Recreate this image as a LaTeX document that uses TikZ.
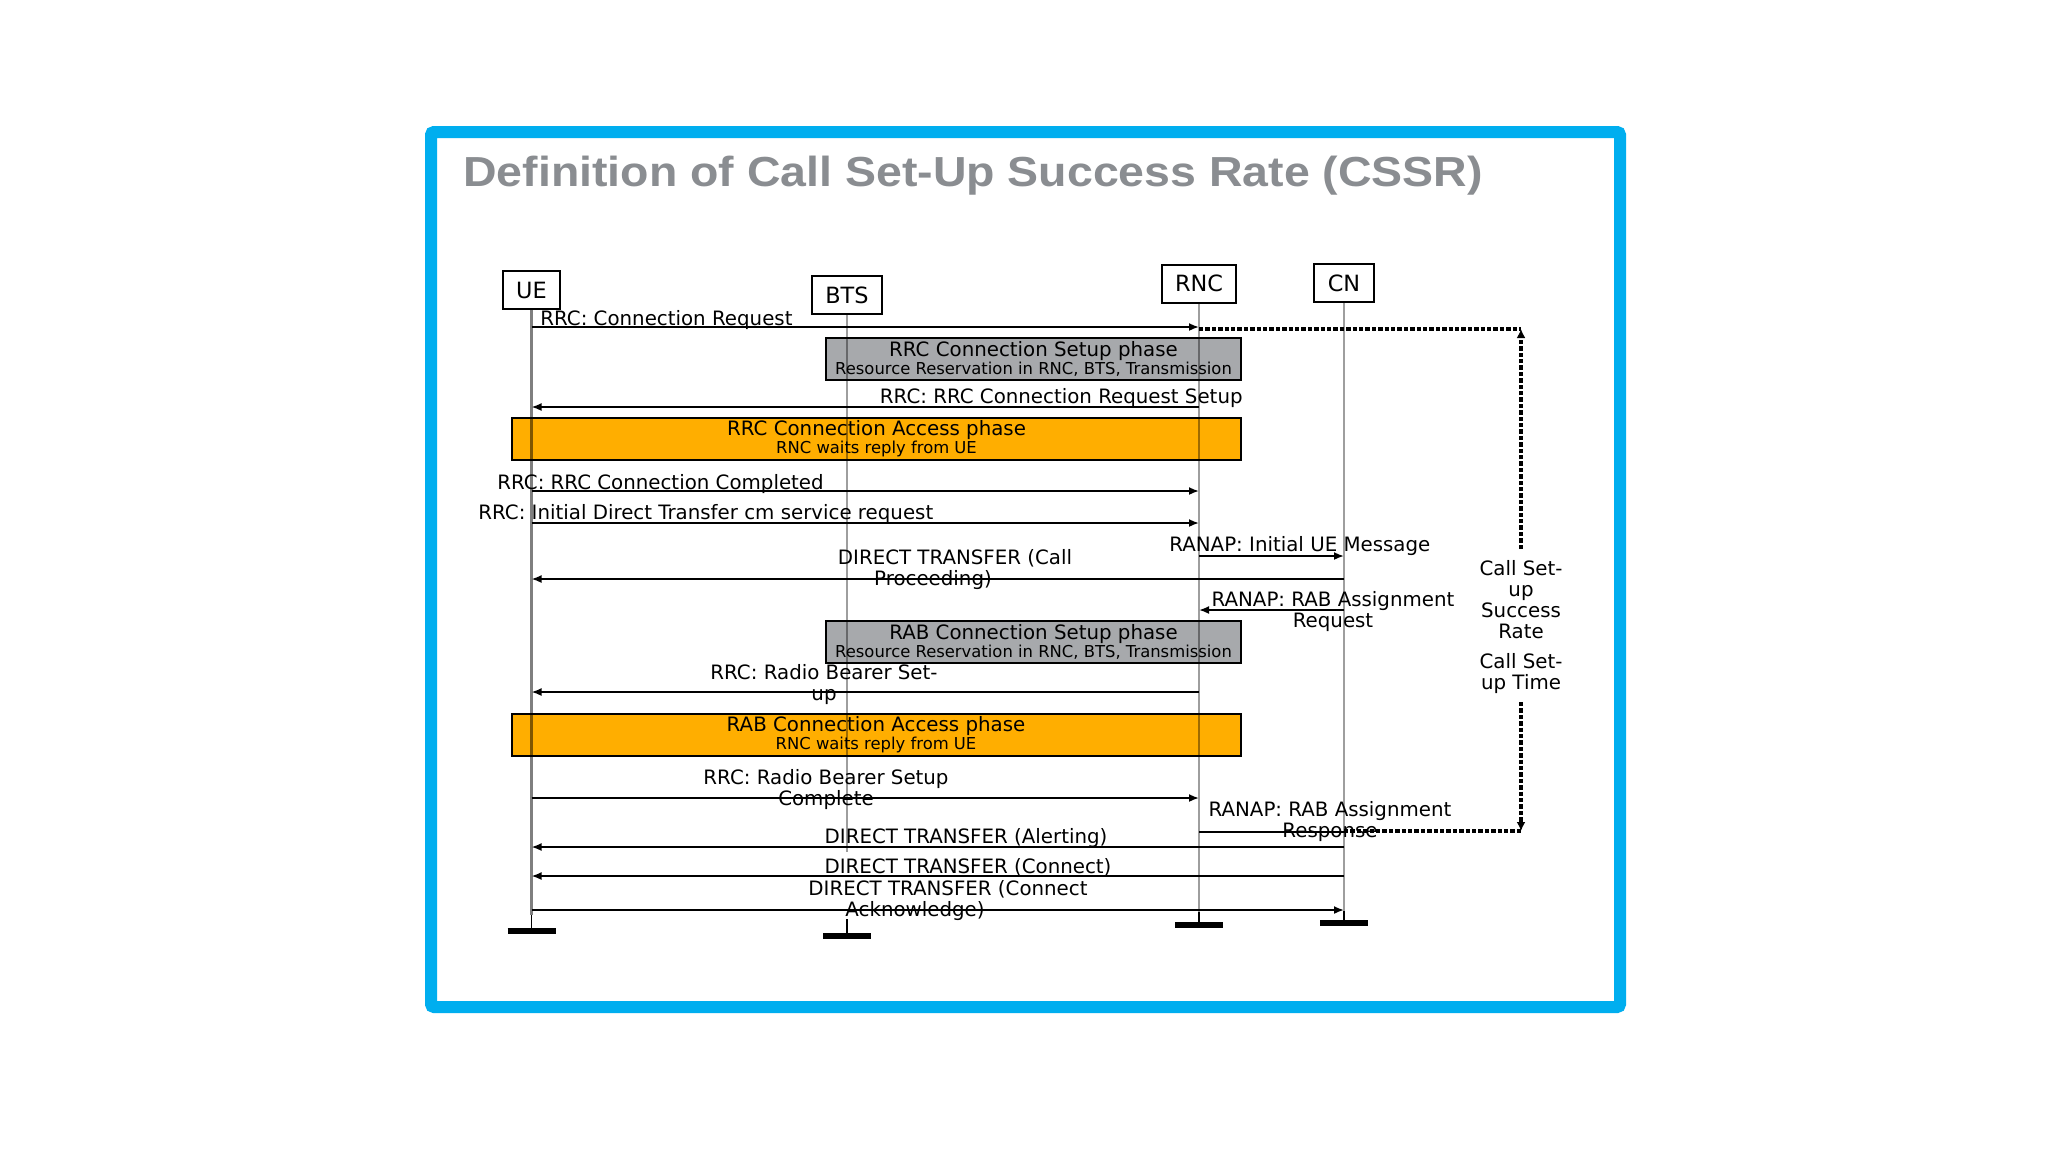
\documentclass[tikz,border=0pt]{standalone}
\usepackage{fontspec}
\usepackage{graphicx}
\setmainfont{DejaVu Sans}
\newfontfamily\titlefont{Liberation Sans}
\usetikzlibrary{arrows.meta}
\definecolor{frameblue}{RGB}{0,174,239}
\definecolor{titlegray}{RGB}{138,141,145}
\definecolor{phasegray}{RGB}{167,169,172}
\definecolor{phaseorange}{RGB}{255,174,0}
\newcommand{\twol}[2]{\begin{tabular}[t]{@{}c@{}}#1\\#2\end{tabular}}
\begin{document}
\begin{tikzpicture}[x=0.5pt,y=-0.5pt,
  msgfont/.style={font=\fontsize{9.9}{10.5}\selectfont},
  lbl/.style={msgfont, inner sep=0pt, anchor=base},
  lblw/.style={lbl, anchor=base west},
  lble/.style={lbl, anchor=base east},
  entity/.style={draw=black, line width=1pt, fill=white, font=\fontsize{11.2}{12}\selectfont, inner xsep=6.7pt, inner ysep=0pt, minimum height=19pt},
  life/.style={draw=black, draw opacity=0.38, line width=1.3pt},
  lifedark/.style={draw=black, draw opacity=0.5, line width=1.1pt},
  stub/.style={draw=black, line width=0.6pt},
  endbar/.style={draw=black, line width=3pt},
  msg/.style={draw=black, line width=0.9pt, -{Latex[length=5pt,width=4pt]}},
  msgplain/.style={draw=black, line width=0.9pt},
  phase/.style={draw=black, line width=1pt, inner sep=0pt, align=center, font=\fontsize{9.9}{9}\selectfont},
  graybox/.style={phase, fill=phasegray, minimum width=207.5pt, minimum height=21pt},
  orangebox/.style={phase, fill=phaseorange, minimum width=364.5pt, minimum height=21pt},
  dotline/.style={draw=black, line width=2.4pt, dash pattern=on 2.2pt off 1pt},
  dotarrow/.style={dotline, -{Latex[length=4.5pt,width=4.5pt]}}
]
\fill[white] (0,0) rectangle (2048,1152);
\useasboundingbox (0,0) rectangle (2048,1152);

% frame
\draw[frameblue, line width=6pt, rounded corners=1.5pt] (431,132) rectangle (1620,1007);

% title
\node[anchor=base west, inner sep=0pt, text=titlegray, font=\titlefont\bfseries\fontsize{21}{25}\selectfont] (title) at (463,186) {\scalebox{1.106}[1]{Definition of Call Set-Up Success Rate (CSSR)}};

% entities
\node[entity] (ue) at (531.5,290) {UE};
\node[entity] (bts) at (847,295) {BTS};
\node[entity] (rnc) at (1199,283.5) {RNC};
\node[entity] (cn) at (1344,283) {CN};

% phase boxes
\node[graybox] (rrcsetup) at (1033.5,359) {RRC Connection Setup phase\\{\fontsize{8.2}{9}\selectfont Resource Reservation in RNC, BTS, Transmission}};
\node[orangebox] (rrcaccess) at (876.5,439) {RRC Connection Access phase\\{\fontsize{8.2}{9}\selectfont RNC waits reply from UE}};
\node[graybox] (rabsetup) at (1033.5,641.5) {RAB Connection Setup phase\\{\fontsize{8.2}{9}\selectfont Resource Reservation in RNC, BTS, Transmission}};
\node[orangebox] (rabaccess) at (876,735) {RAB Connection Access phase\\{\fontsize{8.2}{9}\selectfont RNC waits reply from UE}};

% lifelines
\draw[lifedark] (ue.south) -- (ue |- 0,915);
\draw[life] (bts.south) -- (bts |- 0,852);
\draw[life] (rnc.south) -- (rnc |- 0,912);
\draw[life] (cn.south) -- (cn |- 0,911);
\draw[stub] (ue |- 0,915) -- (ue |- 0,928);
\draw[stub] (bts |- 0,919) -- (bts |- 0,933);
\draw[stub] (rnc |- 0,912) -- (rnc |- 0,922);
\draw[stub] (cn |- 0,911) -- (cn |- 0,920);
\coordinate (ueend) at (ue |- 0,931);
\coordinate (btsend) at (bts |- 0,936);
\coordinate (rncend) at (rnc |- 0,925);
\coordinate (cnend) at (cn |- 0,923);
\draw[endbar] ([xshift=-12pt]ueend) -- ([xshift=12pt]ueend);
\draw[endbar] ([xshift=-12pt]btsend) -- ([xshift=12pt]btsend);
\draw[endbar] ([xshift=-12pt]rncend) -- ([xshift=12pt]rncend);
\draw[endbar] ([xshift=-12pt]cnend) -- ([xshift=12pt]cnend);

% messages
\draw[msg] (ue |- 0,327) -- (rnc |- 0,327);
\node[lblw] (l1) at (540,325) {RRC: Connection Request};

\draw[msg] (rnc |- 0,407) -- (ue |- 0,407);
\node[lble] (l2) at (1243,403) {RRC: RRC Connection Request Setup};

\draw[msg] (ue |- 0,491) -- (rnc |- 0,491);
\node[lblw] (l3) at (497,489) {RRC: RRC Connection Completed};

\draw[msg] (ue |- 0,523) -- (rnc |- 0,523);
\node[lblw] (l4) at (478,519) {RRC: Initial Direct Transfer cm service request};

\draw[msg] (rnc |- 0,556) -- (cn |- 0,556);
\node[lblw] (l5) at (1169,551) {RANAP: Initial UE Message};

\draw[msg] (cn |- 0,579) -- (ue |- 0,579);
\node[lbl] (l6) at (955,564) {\twol{DIRECT TRANSFER (Call}{Proceeding)\hspace*{22pt}}};

\draw[msg] (cn |- 0,610) -- (rnc |- 0,610);
\node[lbl] (l7) at (1333,606) {\twol{RANAP: RAB Assignment}{Request}};

\draw[msg] (rnc |- 0,692) -- (ue |- 0,692);
\node[lbl] (l8) at (824,679) {\twol{RRC: Radio Bearer Set-}{up}};

\draw[msg] (ue |- 0,798) -- (rnc |- 0,798);
\node[lbl] (l9) at (826,784) {\twol{RRC: Radio Bearer Setup}{Complete}};

\draw[msgplain] (rnc |- 0,832) -- (cn |- 0,832);
\node[lbl] (l10) at (1330,816) {\twol{RANAP: RAB Assignment}{Response}};

\draw[msg] (cn |- 0,847) -- (ue |- 0,847);
\node[lbl] (l11) at (966,843) {DIRECT TRANSFER (Alerting)};

\draw[msg] (cn |- 0,876) -- (ue |- 0,876);
\node[lbl] (l12) at (968,873) {DIRECT TRANSFER (Connect)};

\draw[msg] (ue |- 0,910) -- (cn |- 0,910);
\node[lbl] (l13) at (948,895) {\twol{DIRECT TRANSFER (Connect}{Acknowledge)\hspace*{33pt}}};

% call set-up measurement span
\coordinate (ctop) at (1521,329);
\coordinate (ctopend) at (1521,549);
\coordinate (cbotstart) at (1521,702);
\coordinate (cbot) at (1521,831);
\draw[dotline] (rnc |- ctop) -- (ctop);
\draw[dotarrow] (ctopend) -- (ctop);
\draw[dotline] (cn |- cbot) -- (cbot);
\draw[dotarrow] (cbotstart) -- (cbot);
\node[lbl] (csr) at (1521,575) {\begin{tabular}[t]{@{}c@{}}Call Set-\\up\\Success\\Rate\end{tabular}};
\node[lbl] (cst) at (1521,668) {\twol{Call Set-}{up Time}};
\end{tikzpicture}
\end{document}
